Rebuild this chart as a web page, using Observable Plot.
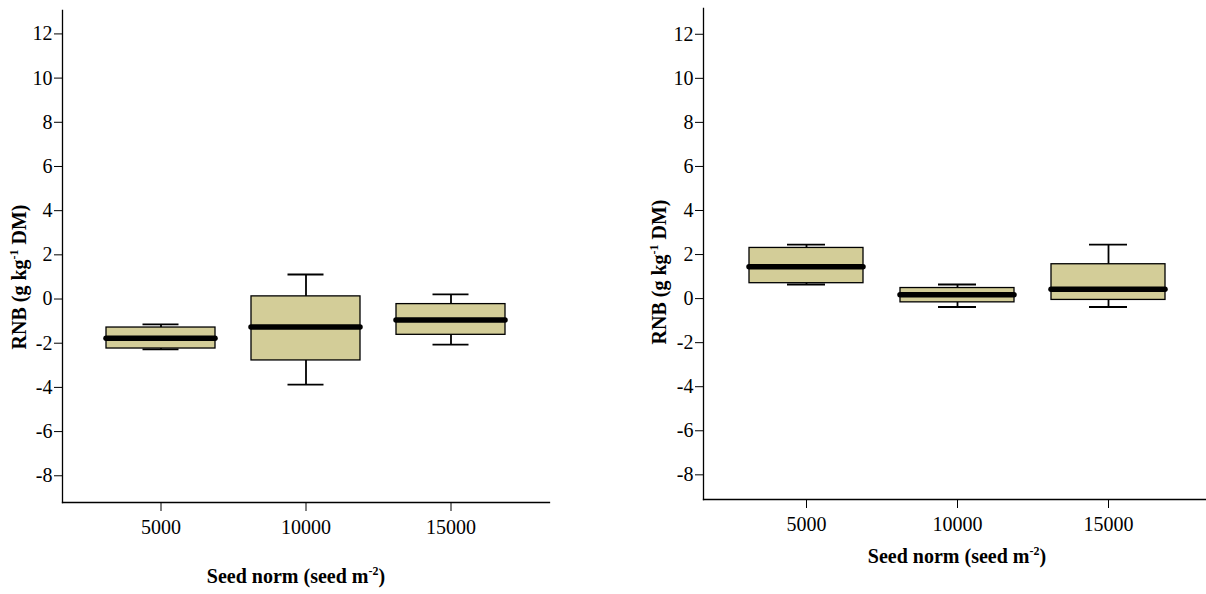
<!DOCTYPE html>
<html><head><meta charset="utf-8">
<script src="https://cdn.jsdelivr.net/npm/d3@7"></script>
<script src="https://cdn.jsdelivr.net/npm/@observablehq/plot@0.6"></script>
<style>
body{margin:0;width:1206px;height:594px;overflow:hidden;background:#fff}
#wrap{display:flex;width:1206px;height:594px;overflow:hidden}
#wrap svg{flex:none}
#wrap svg text{font-family:"Liberation Serif","Times New Roman",serif !important}
</style></head><body><div id="wrap"></div>
<script>
const seedNorms = ["5000", "10000", "15000"];
const yTicks = [-8, -6, -4, -2, 0, 2, 4, 6, 8, 10, 12];

// Left panel (whisker low, Q1, median, Q3, whisker high)
const leftLow    = [-2.28, -3.87, -2.06];
const leftQ1     = [-2.24, -2.78, -1.62];
const leftMedian = [-1.77, -1.27, -0.95];
const leftQ3     = [-1.29,  0.12, -0.23];
const leftHigh   = [-1.15,  1.11,  0.21];

// Right panel
const rightLow    = [0.64, -0.38, -0.38];
const rightQ1     = [0.70, -0.17, -0.06];
const rightMedian = [1.45,  0.18,  0.42];
const rightQ3     = [2.30,  0.48,  1.56];
const rightHigh   = [2.45,  0.64,  2.45];

const FONT = "Liberation Serif, Times New Roman, serif";
const FILL = "#d3cd98";

function panel(o) {
  const rows = seedNorms.map((s, i) => ({seed: s, low: o.low[i], q1: o.q1[i], median: o.med[i], q3: o.q3[i], high: o.high[i]}));
  const svg = Plot.plot({
    width: o.width, height: 594,
    marginLeft: o.marginLeft, marginRight: o.marginRight, marginTop: o.marginTop, marginBottom: o.marginBottom,
    style: {background: "#fff", overflow: "visible"},
    x: {domain: seedNorms, paddingInner: 0.247, paddingOuter: 0.295, label: null},
    y: {domain: o.yDomain, label: null},
    marks: [
      Plot.axisY({ticks: yTicks, tickSize: 8, tickPadding: 2, tickFormat: d => String(d), label: null}),
      Plot.axisX({tickSize: 9, tickPadding: 8, label: null}),
      Plot.ruleX(rows, {x: "seed", y1: "q3", y2: "high", stroke: "#000", strokeWidth: 1.8}),
      Plot.ruleX(rows, {x: "seed", y1: "low", y2: "q1", stroke: "#000", strokeWidth: 1.8}),
      Plot.tickY(rows, {x: "seed", y: "high", insetLeft: o.capInset, insetRight: o.capInset, stroke: "#000", strokeWidth: 1.8}),
      Plot.tickY(rows, {x: "seed", y: "low", insetLeft: o.capInset, insetRight: o.capInset, stroke: "#000", strokeWidth: 1.8}),
      Plot.barY(rows, {x: "seed", y1: "q1", y2: "q3", fill: FILL, stroke: "#000", strokeWidth: 1.3}),
      Plot.tickY(rows, {x: "seed", y: "median", stroke: "#000", strokeWidth: 5.5, strokeLinecap: "round"}),
      Plot.frame({anchor: "left", stroke: "#000", strokeWidth: 1.3}),
      Plot.frame({anchor: "bottom", stroke: "#000", strokeWidth: 1.3})
    ]
  });
  const s = d3.select(svg);
  s.style("color", "#000");
  s.selectAll("text").style("font-size", "20px").attr("fill", "#000");
  // x title
  const xt = s.append("text")
    .attr("x", o.xTitleX).attr("y", o.xTitleY)
    .attr("text-anchor", "middle")
    .style("font-size", "20px").style("font-weight", "bold").attr("fill", "#000");
  xt.append("tspan").text("Seed norm (seed m");
  xt.append("tspan").attr("dy", -8).style("font-size", "12px").text("-2");
  xt.append("tspan").attr("dy", 8).text(")");
  // y title
  const yt = s.append("text")
    .attr("transform", `translate(${o.yTitleX},${o.yTitleY}) rotate(-90)`)
    .attr("text-anchor", "middle")
    .style("font-size", "20px").style("font-weight", "bold").attr("fill", "#000");
  yt.append("tspan").text("RNB (g kg");
  yt.append("tspan").attr("dy", -8).style("font-size", "12px").text("-1");
  yt.append("tspan").attr("dy", 8).text(" DM)");
  return svg;
}

const wrap = document.getElementById("wrap");
wrap.appendChild(panel({
  low: leftLow, q1: leftQ1, med: leftMedian, q3: leftQ3, high: leftHigh,
  width: 603, marginLeft: 62, marginRight: 54, marginTop: 10, marginBottom: 92,
  yDomain: [-9.21, 13.06], capInset: 36.5,
  xTitleX: 296, xTitleY: 583, yTitleX: 26, yTitleY: 277
}));
wrap.appendChild(panel({
  low: rightLow, q1: rightQ1, med: rightMedian, q3: rightQ3, high: rightHigh,
  width: 607, marginLeft: 100, marginRight: 0, marginTop: 8, marginBottom: 95,
  yDomain: [-9.12, 13.17], capInset: 38,
  xTitleX: 354, xTitleY: 563, yTitleX: 63, yTitleY: 272
}));
</script>
</body></html>
